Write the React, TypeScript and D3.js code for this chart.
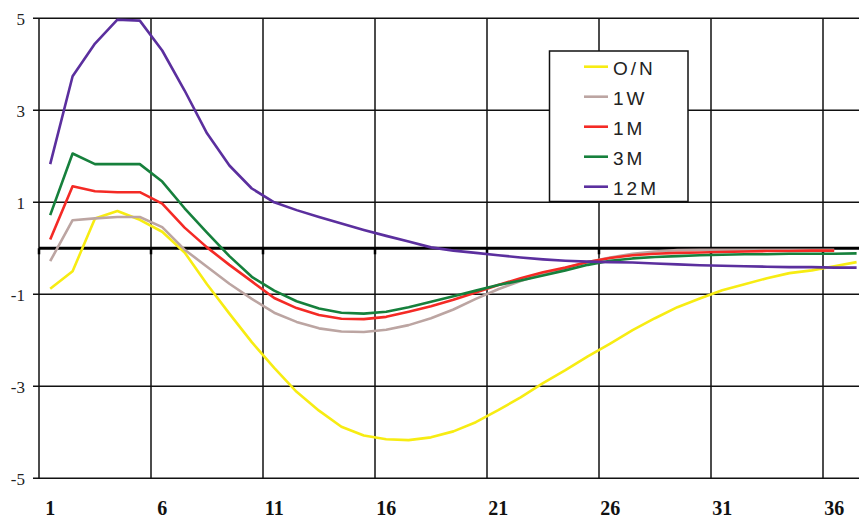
import React, { useEffect, useRef } from 'react';
import * as d3 from 'd3';

// category index 1..37 along x
const xTicks = [1, 6, 11, 16, 21, 26, 31, 36];
const yTicks = [5, 3, 1, -1, -3, -5];

const overnight = [-0.88, -0.5, 0.65, 0.81, 0.62, 0.36, -0.09, -0.78, -1.42, -2.04, -2.6, -3.12, -3.53, -3.88, -4.07, -4.15, -4.17, -4.11, -3.98, -3.78, -3.52, -3.24, -2.93, -2.65, -2.35, -2.07, -1.78, -1.52, -1.28, -1.09, -0.91, -0.78, -0.65, -0.54, -0.48, -0.39, -0.3];
const week1 = [-0.28, 0.61, 0.65, 0.68, 0.68, 0.46, -0.03, -0.4, -0.77, -1.1, -1.4, -1.6, -1.74, -1.81, -1.82, -1.77, -1.67, -1.52, -1.33, -1.1, -0.89, -0.71, -0.56, -0.43, -0.3, -0.2, -0.12, -0.07, -0.04, -0.03, -0.03, -0.03, -0.03, -0.03, -0.03, -0.03];
const month1 = [0.19, 1.35, 1.24, 1.22, 1.22, 0.97, 0.45, 0.02, -0.36, -0.72, -1.08, -1.3, -1.45, -1.53, -1.54, -1.49, -1.38, -1.26, -1.12, -0.96, -0.8, -0.65, -0.52, -0.42, -0.3, -0.21, -0.15, -0.12, -0.1, -0.09, -0.08, -0.07, -0.06, -0.06, -0.05, -0.05];
const month3 = [0.72, 2.06, 1.83, 1.83, 1.83, 1.45, 0.87, 0.34, -0.17, -0.62, -0.92, -1.15, -1.31, -1.4, -1.42, -1.38, -1.28, -1.16, -1.04, -0.92, -0.8, -0.7, -0.59, -0.48, -0.36, -0.27, -0.22, -0.19, -0.17, -0.15, -0.14, -0.13, -0.13, -0.12, -0.12, -0.12, -0.11];
const month12 = [1.83, 3.74, 4.45, 4.97, 4.95, 4.3, 3.43, 2.5, 1.8, 1.3, 1.0, 0.83, 0.68, 0.54, 0.4, 0.27, 0.15, 0.02, -0.05, -0.1, -0.15, -0.2, -0.24, -0.27, -0.29, -0.3, -0.31, -0.33, -0.35, -0.37, -0.38, -0.39, -0.4, -0.41, -0.41, -0.42, -0.42];

const seriesNames = ['O/N', '1W', '1M', '3M', '12M'];
const seriesColors = ['#f7ec12', '#bca5a2', '#f42a25', '#16803c', '#5b2f9e'];
const seriesValues = [overnight, week1, month1, month3, month12];

const App = () => {
  const svgRef = useRef<SVGSVGElement>(null);

  useEffect(() => {
    const svg = d3.select(svgRef.current);
    svg.selectAll('*').remove();

    const width = 859;
    const height = 520;
    const left = 39;
    const unit = 22.4;

    const x = d3.scaleLinear().domain([0.5, 37.5]).range([left, left + 37 * unit]);
    const y = d3.scaleLinear().domain([-5, 5]).range([478.3, 18.3]);

    svg.attr('width', width).attr('height', height).attr('viewBox', [0, 0, width, height]);

    // horizontal grid
    svg.append('g')
      .selectAll('line')
      .data(yTicks)
      .join('line')
      .attr('x1', left - 6)
      .attr('x2', width)
      .attr('y1', d => y(d))
      .attr('y2', d => y(d))
      .attr('stroke', '#111')
      .attr('stroke-width', 1.5);

    // vertical grid (category boundaries)
    svg.append('g')
      .selectAll('line')
      .data(xTicks)
      .join('line')
      .attr('x1', d => x(d - 0.5))
      .attr('x2', d => x(d - 0.5))
      .attr('y1', y(5))
      .attr('y2', y(-5))
      .attr('stroke', '#111')
      .attr('stroke-width', 1.5);

    // zero line with small ticks
    svg.append('line')
      .attr('x1', left)
      .attr('x2', width)
      .attr('y1', y(0))
      .attr('y2', y(0))
      .attr('stroke', '#000')
      .attr('stroke-width', 3);

    svg.append('g')
      .selectAll('line')
      .data(xTicks)
      .join('line')
      .attr('x1', d => x(d - 0.5))
      .attr('x2', d => x(d - 0.5))
      .attr('y1', y(0))
      .attr('y2', y(0) + 6)
      .attr('stroke', '#000')
      .attr('stroke-width', 2.5);

    // y labels
    svg.append('g')
      .selectAll('text')
      .data(yTicks)
      .join('text')
      .attr('x', 25)
      .attr('y', d => y(d) + 7)
      .attr('text-anchor', 'end')
      .attr('font-family', '"Liberation Serif", "Times New Roman", serif')
      .attr('font-size', 17)
      .attr('fill', '#222')
      .text(d => d);

    // x labels
    svg.append('g')
      .selectAll('text')
      .data(xTicks)
      .join('text')
      .attr('x', d => x(d))
      .attr('y', 515)
      .attr('text-anchor', 'middle')
      .attr('font-family', '"Liberation Serif", "Times New Roman", serif')
      .attr('font-weight', 'bold')
      .attr('font-size', 20)
      .attr('fill', '#111')
      .text(d => d);

    const line = d3.line<number>()
      .x((d, i) => x(i + 1))
      .y(d => y(d));

    seriesValues.forEach((vals, k) => {
      svg.append('path')
        .datum(vals)
        .attr('fill', 'none')
        .attr('stroke', seriesColors[k])
        .attr('stroke-width', 2.6)
        .attr('stroke-linejoin', 'round')
        .attr('d', line);
    });

    // legend
    const lg = svg.append('g');
    lg.append('rect')
      .attr('x', 549.5)
      .attr('y', 51)
      .attr('width', 138.5)
      .attr('height', 150.5)
      .attr('fill', '#fff')
      .attr('stroke', '#111')
      .attr('stroke-width', 1.5);

    const rows = lg.selectAll('g.row')
      .data(seriesNames)
      .join('g')
      .attr('class', 'row')
      .attr('transform', (d, i) => `translate(0,${66.7 + i * 30})`);

    rows.append('line')
      .attr('x1', 584)
      .attr('x2', 608)
      .attr('stroke', (d, i) => seriesColors[i])
      .attr('stroke-width', 2.6);

    rows.append('text')
      .attr('x', 613)
      .attr('y', 8)
      .attr('font-family', '"Liberation Sans", Arial, sans-serif')
      .attr('font-size', 19)
      .attr('letter-spacing', 3)
      .attr('fill', '#222')
      .text(d => d);
  }, []);

  return <svg ref={svgRef} style={{ position: 'absolute', left: 0, top: 0, background: '#fff' }}></svg>;
};

export default App;
